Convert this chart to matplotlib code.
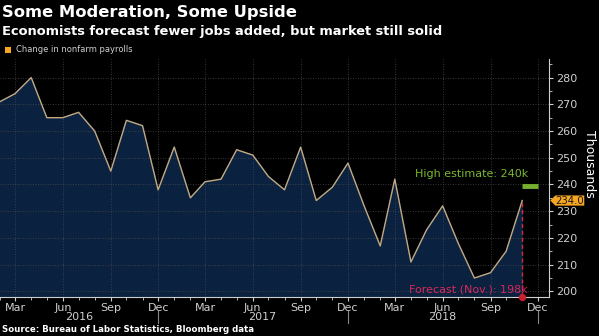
import numpy as np
import pandas as pd
import matplotlib
matplotlib.use("Agg")
import matplotlib.pyplot as plt
import matplotlib.dates as mdates
from matplotlib.patches import Polygon
from matplotlib.transforms import blended_transform_factory

# datos (miles)
meses = pd.date_range("2016-02-01", "2018-11-01", freq="MS")
nominas = [271, 274, 280, 265, 265, 267, 260, 245, 264, 262, 238,
           254, 235, 241, 242, 253, 251, 243, 238, 254, 234, 239, 248,
           232, 217, 242, 211, 223, 232, 218, 205, 207, 215, 234]
alta_estimacion = 240
pronostico = 198
ultimo = nominas[-1]

fondo = "black"
gris = "#cfcfcf"

fig = plt.figure(figsize=(5.99, 3.36), dpi=100, facecolor=fondo)
ax = fig.add_axes([0.0, 0.116, 0.917, 0.708], facecolor=fondo)

ax.fill_between(meses, nominas, 150, color="#0b2140", zorder=1)
ax.plot(meses, nominas, color="#c2a980", lw=1.0, zorder=3)

ax.set_ylim(197.9, 286.9)
ax.set_xlim(pd.Timestamp("2016-02-01"), pd.Timestamp("2018-12-23"))

# linea de pronostico y estimacion alta
ax.plot([meses[-1], meses[-1]], [pronostico, ultimo], color="#d42a45", lw=1.0,
        ls=(0, (3, 2)), zorder=4)
ax.scatter([meses[-1]], [pronostico], s=18, color="#c8202e", zorder=5, clip_on=False)
ax.plot([meses[-1], pd.Timestamp("2018-12-01")], [alta_estimacion - 0.5] * 2,
        color="#76b12d", lw=3.5, solid_capstyle="butt", zorder=4)
ax.text(pd.Timestamp("2018-11-12"), 244, "High estimate: 240k", color="#7cb82f",
        fontsize=8, ha="right", va="center")
ax.text(pd.Timestamp("2018-11-12"), 200.8, "Forecast (Nov.): 198k", color="#d6285a",
        fontsize=8, ha="right", va="center", zorder=6)

# ejes
ax.yaxis.tick_right()
ax.set_yticks(np.arange(200, 290, 10))
ax.set_yticks(np.arange(200, 290, 5), minor=True)
ax.xaxis.set_major_locator(mdates.MonthLocator(bymonth=[3, 6, 9, 12]))
ax.xaxis.set_major_formatter(mdates.DateFormatter("%b"))
ax.xaxis.set_minor_locator(mdates.MonthLocator())
ax.tick_params(colors=gris, labelsize=8, length=3, width=0.8, pad=1)
ax.tick_params(which="minor", colors=gris, length=2)
ax.tick_params(axis="y", pad=2)
ax.grid(True, color="#4a4a4a", ls=(0, (1, 2)), lw=0.6)
for lado in ["top", "left"]:
    ax.spines[lado].set_visible(False)
ax.spines["right"].set_color(gris)
ax.spines["bottom"].set_color(gris)

ax.text(1.074, 0.56, "Thousands", transform=ax.transAxes, rotation=270,
        color="white", fontsize=9, ha="center", va="center")

# separadores de año y etiquetas
trans = blended_transform_factory(ax.transData, ax.transAxes)
for fecha in ["2016-12-01", "2017-12-01", "2018-12-01"]:
    ax.plot([pd.Timestamp(fecha)] * 2, [-0.058, -0.11], color="#888888", lw=0.8,
            transform=trans, clip_on=False)
for anio, fecha in [("2016", "2016-07-03"), ("2017", "2017-06-20"), ("2018", "2018-06-01")]:
    ax.text(pd.Timestamp(fecha), -0.085, anio, transform=trans, color=gris,
            fontsize=8, ha="center", va="center")

# etiqueta del ultimo valor
tr = blended_transform_factory(ax.transAxes, ax.transData)
px = 1 / 549.3
h = 1.9
forma = Polygon([(1 + 1 * px, ultimo), (1 + 6 * px, ultimo + h), (1 + 35 * px, ultimo + h),
                 (1 + 35 * px, ultimo - h), (1 + 6 * px, ultimo - h)], closed=True,
                transform=tr, facecolor="#f5a623", edgecolor="none", clip_on=False, zorder=6)
ax.add_patch(forma)
ax.text(1 + 20.5 * px, ultimo, f"{ultimo:.1f}", transform=tr, color="#1a1a1a",
        fontsize=7.3, ha="center", va="center", zorder=7, clip_on=False)

# textos
fig.text(0.003, 0.962, "Some Moderation, Some Upside", color="white", fontsize=11.8,
         fontweight="bold", va="center")
fig.text(0.003, 0.905, "Economists forecast fewer jobs added, but market still solid",
         color="white", fontsize=9.4, fontweight="bold", va="center")
fig.patches.append(plt.Rectangle((0.008, 0.843), 0.01, 0.018, transform=fig.transFigure,
                                 facecolor="#f5a623", edgecolor="none"))
fig.text(0.026, 0.852, "Change in nonfarm payrolls", color=gris, fontsize=6, va="center")
fig.text(0.003, 0.018, "Source: Bureau of Labor Statistics, Bloomberg data", color="white",
         fontsize=6.2, fontweight="bold", va="center")

plt.savefig("out.png", dpi=100, facecolor=fondo)
plt.close()
